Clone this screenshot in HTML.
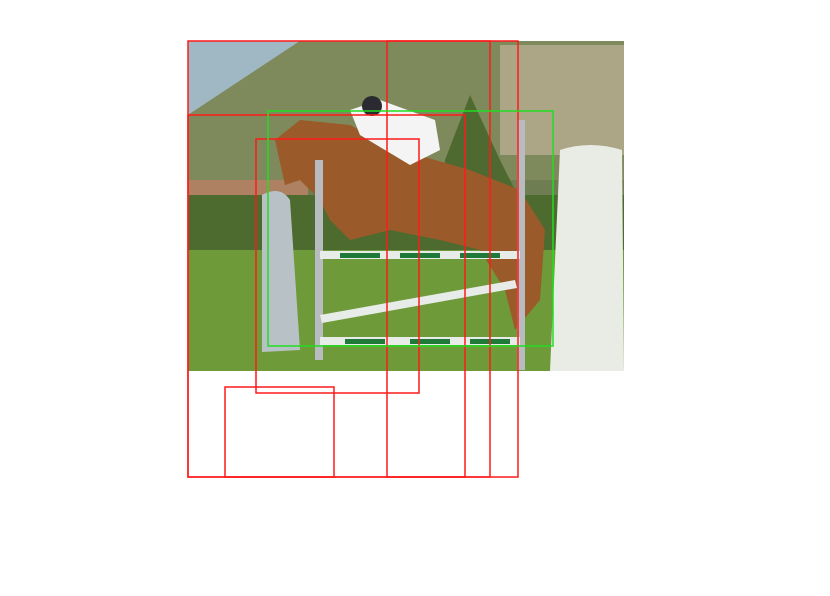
<!DOCTYPE html>
<html><head><meta charset="utf-8"><style>
html,body{margin:0;padding:0;background:#fff;width:830px;height:596px;overflow:hidden}
svg{display:block}
</style></head><body>
<svg width="830" height="596" viewBox="0 0 830 596">
<g>
  <rect x="188" y="41" width="436" height="330" fill="#6f7d52"/>
  <polygon points="188,41 300,41 188,115" fill="#9fb8c4"/>
  <polygon points="188,115 300,41 624,41 624,180 188,180" fill="#7f8a5c"/>
  <rect x="500" y="45" width="124" height="110" fill="#c9b9a4" opacity="0.6"/>
  <rect x="188" y="180" width="120" height="30" fill="#c9836a" opacity="0.7"/>
  <rect x="188" y="195" width="436" height="55" fill="#4d6b2e"/>
  <rect x="188" y="250" width="436" height="121" fill="#6f9a3a"/>
  <polygon points="445,160 470,95 500,160 520,200 440,200" fill="#4f6a30"/>
  <path d="M275,140 L300,120 L350,125 L400,150 L470,170 L520,190 L545,230 L540,300 L515,330 L505,290 L480,250 L440,240 L390,230 L350,240 L330,220 L320,200 L300,180 L285,185 Z" fill="#9a5a2a"/>
  <path d="M350,110 L380,100 L435,120 L440,150 L410,165 L385,150 L360,135 Z" fill="#f4f4f4"/>
  <circle cx="372" cy="106" r="10" fill="#2a2a30"/>
  <path d="M262,195 Q280,185 290,200 L300,350 L262,352 Z" fill="#b8c2c6"/>
  <path d="M560,150 Q590,140 622,150 L624,371 L550,371 Z" fill="#e8ece4"/>
  <rect x="315" y="160" width="8" height="200" fill="#b8bcc0"/>
  <rect x="517" y="120" width="8" height="250" fill="#b8bcc0"/>
  <rect x="320" y="251" width="200" height="8" fill="#e8ece8"/>
  <rect x="340" y="253" width="40" height="5" fill="#1f7a3a"/>
  <rect x="400" y="253" width="40" height="5" fill="#1f7a3a"/>
  <rect x="460" y="253" width="40" height="5" fill="#1f7a3a"/>
  <polygon points="320,315 515,280 517,288 322,323" fill="#e8ece8"/>
  <rect x="320" y="337" width="200" height="8" fill="#e8ece8"/>
  <rect x="345" y="339" width="40" height="5" fill="#1f7a3a"/>
  <rect x="410" y="339" width="40" height="5" fill="#1f7a3a"/>
  <rect x="470" y="339" width="40" height="5" fill="#1f7a3a"/>
</g>
<g fill="none" stroke="#ff1a1a" stroke-width="1.5">
  <rect x="188" y="41" width="302" height="436"/>
  <rect x="387" y="41" width="131" height="436"/>
  <rect x="188" y="115" width="277" height="362"/>
  <rect x="256" y="139" width="163" height="254"/>
  <rect x="225" y="387" width="109" height="90"/>
</g>
<rect x="268" y="111" width="285" height="235" fill="none" stroke="#22dd22" stroke-width="1.5"/>
</svg>
</body></html>
